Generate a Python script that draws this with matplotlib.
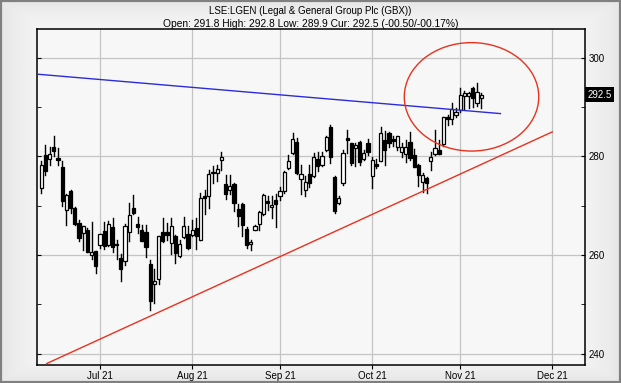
import numpy as np
import pandas as pd
import matplotlib
matplotlib.use("Agg")
import matplotlib.pyplot as plt
from matplotlib.patches import Rectangle, Ellipse

# ---- data ----
ticker = "LSE:LGEN (Legal & General Group Plc (GBX))"
quote = "Open: 291.8 High: 292.8 Low: 289.9 Cur: 292.5 (-00.50/-00.17%)"
last_price = 292.5

opens = [273.6, 280.3, 279.5, 281.9, 279.7, 277.8, 269.2, 272.9, 269.5, 266.6,
         264.5, 265.1, 260.1, 260.9, 262.0, 264.9, 262.1, 265.6, 262.3, 259.4,
         258.7, 264.7, 269.5, 266.4, 265.1, 264.7, 258.2, 254.1, 255.2, 264.7,
         264.7, 262.4, 263.8, 259.9, 263.6, 264.3, 264.1, 265.5, 263.1, 272.0,
         271.9, 276.6, 276.6, 279.2, 274.5, 273.1, 274.5, 269.3, 270.3, 265.3,
         262.2, 265.1, 266.4, 268.3, 270.9, 269.7, 271.1, 271.9, 272.9, 277.6,
         280.7, 282.9, 275.4, 273.1, 276.5, 276.1, 279.5, 278.2, 281.4, 285.9,
         275.8, 270.5, 274.6, 283.7, 282.7, 281.8, 283.0, 279.5, 282.7, 276.1,
         278.4, 279.1, 283.4, 284.7, 283.3, 282.0, 281.0, 280.6, 283.0, 280.3,
         278.2, 274.8, 275.7, 279.1, 280.6, 281.4, 282.5, 288.0, 287.7, 288.4,
         289.4, 292.3, 292.2, 293.8, 290.8, 291.8]
highs = [279.0, 282.4, 282.0, 284.2, 281.7, 279.0, 272.3, 273.1, 269.7, 267.2,
         265.9, 265.5, 266.8, 260.9, 264.3, 266.8, 267.0, 267.5, 263.1, 260.2,
         266.3, 270.5, 272.1, 267.8, 266.1, 266.0, 259.1, 257.2, 263.9, 267.5,
         266.5, 267.5, 264.0, 263.1, 267.7, 265.8, 267.2, 267.5, 272.6, 273.2,
         277.3, 278.0, 278.3, 281.0, 276.3, 276.3, 274.6, 270.4, 270.5, 265.6,
         263.1, 266.1, 268.9, 272.4, 272.0, 271.9, 272.4, 273.8, 277.0, 280.3,
         284.7, 283.7, 278.3, 276.1, 278.3, 280.7, 281.0, 280.9, 284.1, 286.4,
         276.0, 271.9, 281.4, 285.4, 282.8, 282.7, 283.2, 281.4, 283.5, 279.9,
         279.5, 285.9, 285.1, 284.9, 284.2, 284.2, 282.7, 283.3, 285.0, 281.6,
         278.4, 276.6, 275.8, 280.9, 285.3, 283.3, 288.1, 288.4, 290.8, 289.9,
         293.8, 293.3, 293.1, 294.0, 294.9, 292.8]
lows = [272.6, 276.3, 278.3, 280.1, 278.2, 270.0, 266.0, 268.5, 266.1, 262.8,
        261.1, 260.6, 259.2, 256.4, 261.4, 261.3, 261.8, 260.7, 259.3, 254.8,
        257.9, 262.8, 268.4, 264.5, 262.8, 259.6, 248.9, 250.3, 254.1, 262.6,
        263.1, 260.2, 258.4, 259.7, 263.4, 261.3, 263.8, 261.3, 263.0, 268.3,
        269.5, 274.6, 275.1, 277.3, 271.4, 272.4, 268.9, 265.8, 263.8, 261.4,
        261.0, 265.0, 265.1, 268.2, 269.2, 267.5, 265.6, 271.2, 272.6, 277.5,
        280.5, 276.5, 272.4, 271.9, 273.9, 275.9, 277.0, 278.0, 281.2, 278.6,
        268.5, 270.4, 274.3, 280.7, 278.2, 278.1, 278.3, 279.2, 280.3, 273.6,
        277.6, 279.0, 278.3, 282.0, 282.2, 281.4, 279.9, 278.9, 279.3, 277.8,
        274.1, 272.8, 272.5, 277.2, 280.3, 280.5, 282.1, 286.3, 286.6, 288.0,
        289.0, 289.7, 289.9, 290.0, 290.2, 289.9]
closes = [278.3, 277.0, 280.5, 281.2, 279.3, 270.9, 272.2, 269.5, 266.4, 263.4,
          265.8, 260.7, 260.6, 257.7, 264.3, 261.8, 266.4, 261.6, 262.0, 257.2,
          265.9, 268.2, 268.5, 265.6, 262.9, 261.6, 250.6, 254.7, 263.8, 262.8,
          264.0, 265.9, 260.4, 262.2, 265.8, 261.4, 265.1, 263.8, 271.6, 271.5,
          276.5, 276.8, 277.5, 279.8, 272.4, 274.1, 270.5, 268.0, 266.1, 262.0,
          262.6, 265.8, 268.7, 272.2, 270.5, 270.2, 270.3, 273.0, 276.8, 279.0,
          283.5, 276.6, 276.4, 274.9, 274.6, 279.9, 278.0, 280.0, 283.9, 279.9,
          268.9, 271.6, 280.7, 283.4, 278.6, 282.4, 278.8, 280.8, 281.0, 279.3,
          278.1, 284.7, 281.4, 282.8, 283.2, 284.1, 282.0, 282.0, 279.6, 277.9,
          276.2, 276.2, 274.7, 279.8, 281.8, 280.6, 288.0, 287.6, 289.7, 289.0,
          292.4, 292.8, 292.8, 291.8, 293.1, 292.5]

# trend lines: (bar index, price)
resistance_line = [(-1.0, 296.7), (109.6, 288.7)]
support_line = [(1.3, 238.0), (122.0, 285.0)]
# highlight ellipse: centre (bar index, price), width in bars, height in price
circle_centre = (102.7, 292.1)
circle_size = (32.1, 22.0)

y_major = [240, 260, 280, 300]
y_minor = [250, 270, 290]

# trading calendar (UK, Aug 30 bank holiday)
days = pd.bdate_range("2021-06-11", "2021-12-31")
days = days[days != pd.Timestamp("2021-08-30")]
month_idx = [np.argmax(days.month == m) for m in [7, 8, 9, 10, 11, 12]]
month_lbl = [days[i].strftime("%b %y") for i in month_idx]

plt.rcParams["font.family"] = ["Liberation Sans", "DejaVu Sans"]

fig = plt.figure(figsize=(6.21, 3.83), dpi=100)
fig.patch.set_facecolor("#ececec")

# soft background gradient + frame
bg = fig.add_axes([0, 0, 1, 1], zorder=-5)
gx = np.linspace(-1, 1, 300)
gy = np.linspace(-1, 1, 200)
GX, GY = np.meshgrid(gx, gy)
shade = 0.97 - 0.07 * np.maximum(np.abs(GX) ** 10, np.abs(GY) ** 10)
bg.imshow(shade, cmap="gray", vmin=0, vmax=1, aspect="auto", extent=[0, 1, 0, 1])
bg.add_patch(Rectangle((0, 0), 1, 1, transform=bg.transAxes, fill=False,
                       edgecolor="#808080", linewidth=3))
bg.set_axis_off()

ax = fig.add_axes([0.0601, 0.047, 0.8827, 0.8765])
ax.set_facecolor("#f7f7f7")

# candles
x = np.arange(len(opens))
for i in x:
    o, h, l, c = opens[i], highs[i], lows[i], closes[i]
    ax.plot([i, i], [l, h], color="black", linewidth=1.0, zorder=3)
    lo, hi = min(o, c), max(o, c)
    ax.add_patch(Rectangle((i - 0.38, lo), 0.76, max(hi - lo, 0.25),
                           facecolor="white" if c >= o else "black",
                           edgecolor="black", linewidth=0.9, zorder=4))

rx, ry = zip(*resistance_line)
ax.plot(rx, ry, color="#2b2bd9", linewidth=1.0, zorder=5)
sx, sy = zip(*support_line)
ax.plot(sx, sy, color="#e8321e", linewidth=1.0, zorder=5)
ax.add_patch(Ellipse(circle_centre, circle_size[0], circle_size[1], fill=False,
                     edgecolor="#e8321e", linewidth=1.0, zorder=5))

ax.set_xlim(-0.95, 129.9)
ax.set_ylim(237.7, 305.8)

ax.set_xticks(month_idx)
ax.set_xticklabels(month_lbl)
ax.set_yticks(y_major)
ax.set_yticks(y_minor, minor=True)
ax.grid(True, which="major", color="#c4c4c4", linewidth=0.9)
ax.set_axisbelow(True)
ax.yaxis.tick_right()
ax.tick_params(axis="y", which="both", direction="in", left=True, right=True,
               length=3, labelsize=7, pad=2)
ax.tick_params(axis="x", direction="out", length=3, labelsize=7, pad=1)
for s in ax.spines.values():
    s.set_color("black")
    s.set_linewidth(1.1)

# current price tag
ax.text(1.003, last_price, f"{last_price:.1f}", transform=ax.get_yaxis_transform(),
        ha="left", va="center", color="white", fontsize=7,
        bbox=dict(boxstyle="square,pad=0.25", facecolor="black", edgecolor="none"),
        zorder=10, clip_on=False)

fig.text(0.5, 0.972, ticker, ha="center", va="center", fontsize=7)
fig.text(0.5, 0.938, quote, ha="center", va="center", fontsize=7.4)

fig.savefig("out.png", dpi=100, facecolor=fig.get_facecolor())
